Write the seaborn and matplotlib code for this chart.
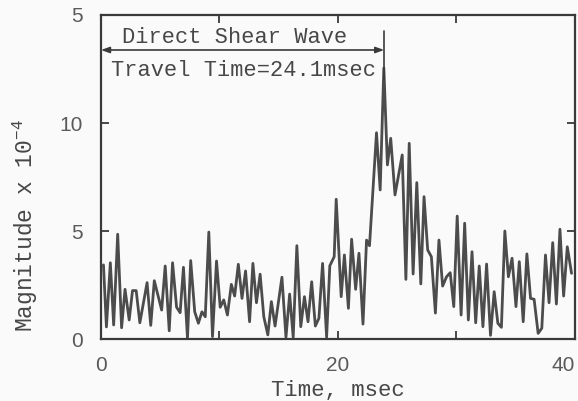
import matplotlib
matplotlib.use("Agg")
import matplotlib.pyplot as plt
import seaborn as sns
import pandas as pd

# ---- data (time in msec, magnitude x 1e-4) ----
time_ms = [0.21, 0.46, 0.79, 1.07, 1.41, 1.74, 2.03, 2.38, 2.66, 2.97,
           3.28, 3.89, 4.20, 4.50, 5.12, 5.42, 5.76, 6.04, 6.38, 6.68,
           6.96, 7.30, 7.57, 7.91, 8.22, 8.52, 8.80, 9.10, 9.41, 9.75,
           10.06, 10.36, 10.67, 11.00, 11.28, 11.59, 11.90, 12.20, 12.54, 12.82,
           13.12, 13.43, 13.74, 14.08, 14.38, 14.69, 15.27, 15.61, 15.92, 16.22,
           16.53, 16.86, 17.17, 17.47, 17.78, 18.09, 18.39, 18.70, 19.04, 19.31,
           19.68, 19.85, 20.27, 20.54, 20.88, 21.15, 21.49, 21.77, 22.11, 22.41,
           22.66, 23.25, 23.56, 23.87, 24.17, 24.45, 24.81, 25.42, 25.73, 26.01,
           26.34, 26.65, 26.99, 27.26, 27.57, 27.88, 28.22, 28.52, 28.83, 29.16,
           29.47, 29.77, 30.06, 30.39, 30.69, 31.00, 31.31, 31.62, 31.92, 32.23,
           32.54, 32.87, 33.18, 33.49, 33.79, 34.08, 34.38, 34.69, 35.02, 35.30,
           35.63, 35.94, 36.25, 36.55, 36.89, 37.20, 37.51, 37.81, 38.12, 38.43,
           38.73, 39.04, 39.35, 39.71]
magnitude = [3.43, 0.56, 3.53, 0.65, 4.85, 0.52, 2.30, 0.88, 2.24, 2.24,
             0.75, 2.61, 0.63, 2.70, 1.34, 3.38, 0.38, 3.53, 1.47, 1.22,
             3.32, 0.03, 3.63, 1.26, 0.73, 1.26, 1.03, 4.95, 0.11, 3.61,
             1.47, 1.81, 1.11, 2.53, 1.99, 3.46, 1.88, 3.15, 0.80, 3.50,
             1.68, 3.00, 1.03, 0.19, 1.73, 0.60, 2.86, 0.08, 2.08, 0.08,
             4.32, 0.57, 1.96, 0.80, 2.65, 0.60, 0.96, 3.50, 0.08, 3.39,
             3.81, 6.47, 1.96, 3.89, 1.42, 4.62, 2.30, 3.97, 0.69, 4.58,
             4.32, 9.55, 6.90, 12.55, 8.06, 9.29, 6.67, 8.52, 2.76, 9.06,
             3.01, 7.24, 2.55, 6.59, 4.12, 3.81, 1.20, 4.58, 2.45, 2.88,
             3.07, 1.50, 5.69, 1.11, 5.36, 0.88, 4.04, 0.75, 3.38, 0.57,
             3.47, 0.17, 2.19, 0.73, 0.54, 5.00, 2.88, 3.74, 1.50, 3.58,
             0.80, 3.94, 1.88, 1.84, 0.26, 0.50, 3.89, 1.68, 4.46, 1.62,
             5.08, 1.99, 4.27, 3.04]

x_ticks = [0, 10, 20, 30, 40]
x_ticklabels = ["0", "", "20", "", "40"]
y_ticks = [0, 5, 10, 15]
y_ticklabels = ["0", "5", "10", "5"]

wave_label = "Direct Shear Wave"
travel_label = "Travel Time=24.1msec"
arrival_ms = 23.9

xlabel = "Time, msec"
ylabel = r"Magnitude x 10$^{-4}$"

# ---- style ----
sns.set_style("ticks")
plt.rcParams["font.family"] = ["Liberation Mono", "DejaVu Sans Mono"]
plt.rcParams["mathtext.fontset"] = "custom"
plt.rcParams["mathtext.rm"] = "Liberation Mono"
plt.rcParams["mathtext.it"] = "Liberation Mono"
plt.rcParams["mathtext.bf"] = "Liberation Mono"

ink = "#474747"
bg = "#fafafa"

fig = plt.figure(figsize=(5.78, 4.01), dpi=100, facecolor=bg)
ax = fig.add_axes([0.1747, 0.1546, 0.8201, 0.808])
ax.set_facecolor(bg)

df = pd.DataFrame({"time": time_ms, "mag": magnitude})
sns.lineplot(data=df, x="time", y="mag", ax=ax, color="#4c4c4c",
             linewidth=2.0, estimator=None, sort=False)

ax.set_xlim(0, 40)
ax.set_ylim(0, 15)
ax.set_xticks(x_ticks)
ax.set_xticklabels(x_ticklabels)
ax.set_yticks(y_ticks)
ax.set_yticklabels(y_ticklabels)

for s in ax.spines.values():
    s.set_visible(True)
    s.set_color("#3a3a3a")
    s.set_linewidth(1.6)

ax.tick_params(axis="both", direction="in", length=6, width=1.3,
               color="#3a3a3a", top=True, right=True, labelcolor="#5a5a5a")
ax.tick_params(axis="x", pad=12)
ax.tick_params(axis="y", pad=13)
for lab in ax.get_xticklabels() + ax.get_yticklabels():
    lab.set_fontfamily(["Liberation Sans", "DejaVu Sans"])
    lab.set_fontsize(15)
xl = ax.get_xticklabels()
xl[-1].set_horizontalalignment("right")
xl[-1].set_x(40)

ax.set_xlabel(xlabel, fontsize=16, color=ink)
ax.xaxis.set_label_coords(0.5, -0.125)
ax.set_ylabel(ylabel, fontsize=16.5, color=ink)
ax.yaxis.set_label_coords(-0.128, 0.35)

# ---- annotation: direct shear wave arrival ----
ax.annotate("", xy=(0, 13.38), xytext=(arrival_ms, 13.38),
            arrowprops=dict(arrowstyle="<|-|>,head_length=0.5,head_width=0.18",
                            color="#3a3a3a", lw=1.2, shrinkA=0, shrinkB=0))
ax.plot([arrival_ms, arrival_ms], [12.0, 14.26], color="#3a3a3a", lw=1.2)
ax.text(11.3, 13.98, wave_label, fontsize=15.8, color=ink,
        ha="center", va="center")
ax.text(12.0, 12.45, travel_label, fontsize=15.8, color=ink,
        ha="center", va="center")

fig.savefig("out.png", dpi=100, facecolor=bg)
